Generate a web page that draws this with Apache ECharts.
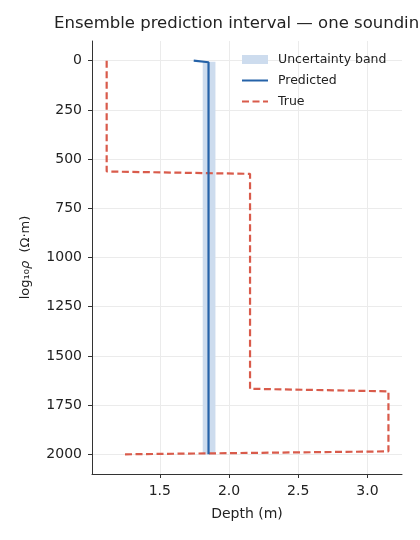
<!DOCTYPE html>
<html lang="en">
<head>
	<meta charset="UTF-8">
	<title>Ensemble prediction interval</title>
	<script src="https://cdn.jsdelivr.net/npm/echarts@6/dist/echarts.min.js"></script>
	<style>
		* { margin: 0; padding: 0; }
		#container { width: 420px; height: 540px; }
	</style>
</head>
<body>
<div id="container"></div>
<script type="text/javascript">
	// true profile: [x, depth]
	var trueX = [1.116, 1.116, 2.152, 2.152, 3.152, 3.152, 1.24];
	var trueY = [0, 563, 575, 1667, 1680, 1985, 2000];
	// predicted profile
	var predX = [1.745, 1.852, 1.852];
	var predY = [0, 8, 2000];
	// uncertainty band
	var bandY = [5, 2000];
	var bandLow = [1.81, 1.81];
	var bandHigh = [1.902, 1.902];

	var xTicks = [1.5, 2.0, 2.5, 3.0];
	var yTicks = [0, 250, 500, 750, 1000, 1250, 1500, 1750, 2000];

	function pairs(xs, ys) {
		var out = [];
		for (var i = 0; i < xs.length; i++) out.push([xs[i], ys[i]]);
		return out;
	}

	var font = 'DejaVu Sans';
	var myChart = echarts.init(document.getElementById('container'));

	var option = {
		animation: false,
		textStyle: {fontFamily: font},
		title: {
			text: 'Ensemble prediction interval — one sounding',
			left: 54,
			top: 15,
			padding: 0,
			textStyle: {fontSize: 16.5, fontWeight: 'normal', color: '#222', fontFamily: font}
		},
		legend: {
			orient: 'vertical',
			left: 241,
			top: 53,
			padding: 0,
			itemWidth: 26,
			itemHeight: 9,
			itemGap: 8,
			textStyle: {fontSize: 12.5, color: '#222', fontFamily: font, padding: [0, 0, 0, 5]},
			data: [
				{name: 'Uncertainty band', icon: 'rect'},
				{name: 'Predicted', itemStyle: {opacity: 0}},
				{name: 'True', itemStyle: {opacity: 0}}
			]
		},
		grid: {left: 92, right: 18, top: 41, bottom: 66},
		xAxis: {
			type: 'value',
			min: 1.01,
			max: 3.25,
			name: 'Depth (m)',
			nameLocation: 'middle',
			nameGap: 33,
			nameTextStyle: {fontSize: 14, color: '#222'},
			axisLine: {show: true, onZero: false, lineStyle: {color: '#333', width: 1}},
			axisTick: {show: true, length: 4, customValues: xTicks, lineStyle: {color: '#333'}},
			axisLabel: {customValues: xTicks, fontSize: 14, color: '#222', margin: 10,
				formatter: function (v) { return v.toFixed(1); }},
			splitLine: {show: true, lineStyle: {color: '#ebebeb', width: 1}}
		},
		yAxis: {
			type: 'value',
			inverse: true,
			min: -100,
			max: 2100,
			name: 'log₁₀{i|ρ}  (Ω·m)',
			nameLocation: 'middle',
			nameGap: 60,
			nameTextStyle: {fontSize: 13, color: '#222', rich: {i: {fontSize: 13, fontStyle: 'italic', color: '#222'}}},
			axisLine: {show: true, onZero: false, lineStyle: {color: '#333', width: 1}},
			axisTick: {show: true, length: 4, customValues: yTicks, lineStyle: {color: '#333'}},
			axisLabel: {customValues: yTicks, fontSize: 14, color: '#222', margin: 10,
				formatter: function (v) { return String(v); }},
			splitLine: {show: true, lineStyle: {color: '#ebebeb', width: 1}}
		},
		series: [
			{
				name: 'Uncertainty band',
				type: 'custom',
				color: '#cddcee',
				data: [[bandLow[0], bandY[0]]],
				renderItem: function (params, api) {
					var pts = [];
					for (var i = 0; i < bandY.length; i++) pts.push(api.coord([bandLow[i], bandY[i]]));
					for (var j = bandY.length - 1; j >= 0; j--) pts.push(api.coord([bandHigh[j], bandY[j]]));
					return {
						type: 'polygon',
						shape: {points: pts},
						style: {fill: '#cddcee'}
					};
				},
				z: 1
			},
			{
				name: 'Predicted',
				type: 'line',
				showSymbol: false,
				symbol: 'none',
				color: '#2562a8',
				lineStyle: {width: 2.2, color: '#2562a8'},
				data: pairs(predX, predY),
				z: 3
			},
			{
				name: 'True',
				type: 'line',
				showSymbol: false,
				symbol: 'none',
				color: '#d95b4b',
				lineStyle: {width: 2.2, color: '#d95b4b', type: [7, 3.5]},
				data: pairs(trueX, trueY),
				z: 2
			}
		]
	};

	myChart.setOption(option);
</script>
</body>
</html>
